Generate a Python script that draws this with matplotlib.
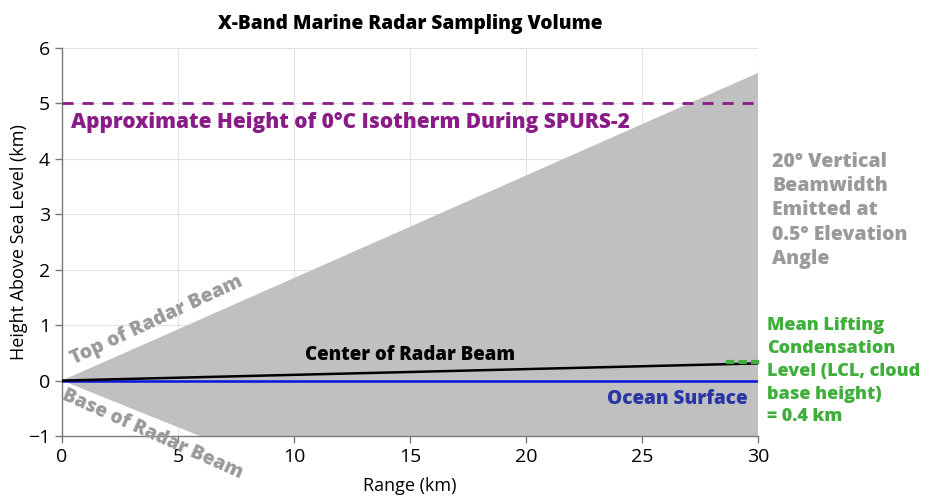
import matplotlib
matplotlib.use("Agg")
import matplotlib.pyplot as plt
import numpy as np

plt.rcParams['font.family'] = ['Open Sans', 'DejaVu Sans']

# beam geometry (km)
rng = [0, 30]
beam_top = [0, 5.55]
beam_base = [0, -5.05]
beam_center = [0, 0.31]
ocean = [0, 0]
isotherm = 5.0
lcl_x = [28.6, 30.1]
lcl_y = [0.33, 0.33]

xticks = [0, 5, 10, 15, 20, 25, 30]
yticks = [-1, 0, 1, 2, 3, 4, 5, 6]

grey_txt = '#9a9a9a'
purple = '#8a1c87'
green = '#3fae3a'
heavy = 800

fig = plt.figure(figsize=(9.48, 4.98), dpi=100)
ax = fig.add_axes([62/948, 1-436/498, 696/948, 388/498])

ax.fill_between(rng, beam_base, beam_top, color='#c0c0c0', lw=0, zorder=1)
ax.plot(rng, ocean, color='#0a14e0', lw=1.8, zorder=3)
ax.plot(rng, beam_center, color='black', lw=1.8, zorder=3)
ax.axhline(isotherm, color=purple, lw=2, ls=(0, (4, 3.2)), zorder=3)
ax.plot(lcl_x, lcl_y, color=green, lw=3, ls=(0, (2, 1)), zorder=4, clip_on=False)

ax.set_xlim(0, 30)
ax.set_ylim(-1, 6)
ax.set_xticks(xticks)
ax.set_yticks(yticks)
ax.set_yticklabels(['\u22121' if t < 0 else str(t) for t in yticks])
ax.grid(True, color='#e4e4e4', lw=0.8, zorder=0)
ax.set_axisbelow(True)
for s in ['top', 'right']:
    ax.spines[s].set_visible(False)
for s in ['left', 'bottom']:
    ax.spines[s].set_color('#7a7a7a')
    ax.spines[s].set_linewidth(1)
ax.tick_params(colors='#7a7a7a', labelcolor='black', labelsize=14, length=5, width=1)
ax.set_xlabel('Range (km)', fontsize=13, labelpad=8)
ax.set_ylabel('Height Above Sea Level (km)', fontsize=13, labelpad=0)

ax.set_title('X-Band Marine Radar Sampling Volume', fontsize=13.8, fontweight=heavy, pad=14)

ax.text(0.4, 4.66, 'Approximate Height of 0\u00b0C Isotherm During SPURS-2', color=purple,
        fontsize=15, fontweight=heavy, va='center', ha='left', zorder=5)
ax.text(4.1, 1.08, 'Top of Radar Beam', color=grey_txt, fontsize=14, fontweight=heavy,
        rotation=25, ha='center', va='center', rotation_mode='anchor', zorder=5)
ax.text(3.9, -0.97, 'Base of Radar Beam', color=grey_txt, fontsize=13.8, fontweight=heavy,
        rotation=-24, ha='center', va='center', rotation_mode='anchor', zorder=5, clip_on=False)
ax.text(15, 0.47, 'Center of Radar Beam', color='black', fontsize=13.4, fontweight=heavy,
        ha='center', va='center', zorder=5)
ax.text(29.57, -0.33, 'Ocean Surface', color='#2936a6', fontsize=13.7, fontweight=heavy,
        ha='right', va='center', zorder=5)

fig.text(772/948, 1-152/498, '20\u00b0 Vertical\nBeamwidth\nEmitted at\n0.5\u00b0 Elevation\nAngle',
         color=grey_txt, fontsize=14, fontweight=heavy, ha='left', va='top', linespacing=1.28)
fig.text(767/948, 1-317/498, 'Mean Lifting\nCondensation\nLevel (LCL, cloud\nbase height)\n= 0.4 km',
         color=green, fontsize=13, fontweight=heavy, ha='left', va='top', linespacing=1.45)

fig.savefig('out.png', dpi=100)
